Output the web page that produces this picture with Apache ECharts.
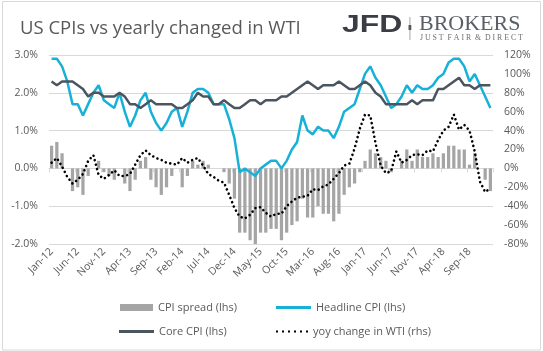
<!DOCTYPE html>
<html><head><meta charset="utf-8">
<script src="https://cdn.jsdelivr.net/npm/echarts@6/dist/echarts.min.js"></script>
<style>html,body{margin:0;padding:0;background:#fff}#c{width:543px;height:351px}</style>
</head><body><div id="c"></div>
<script>
const categories = [
 'Jan-12','Feb-12','Mar-12','Apr-12','May-12','Jun-12','Jul-12','Aug-12','Sep-12','Oct-12','Nov-12','Dec-12',
 'Jan-13','Feb-13','Mar-13','Apr-13','May-13','Jun-13','Jul-13','Aug-13','Sep-13','Oct-13','Nov-13','Dec-13',
 'Jan-14','Feb-14','Mar-14','Apr-14','May-14','Jun-14','Jul-14','Aug-14','Sep-14','Oct-14','Nov-14','Dec-14',
 'Jan-15','Feb-15','Mar-15','Apr-15','May-15','Jun-15','Jul-15','Aug-15','Sep-15','Oct-15','Nov-15','Dec-15',
 'Jan-16','Feb-16','Mar-16','Apr-16','May-16','Jun-16','Jul-16','Aug-16','Sep-16','Oct-16','Nov-16','Dec-16',
 'Jan-17','Feb-17','Mar-17','Apr-17','May-17','Jun-17','Jul-17','Aug-17','Sep-17','Oct-17','Nov-17','Dec-17',
 'Jan-18','Feb-18','Mar-18','Apr-18','May-18','Jun-18','Jul-18','Aug-18','Sep-18','Oct-18','Nov-18','Dec-18',
 'Jan-19'
];
const cpiSpread = [
 0.6,0.7,0.4,0.0,-0.6,-0.5,-0.7,-0.2,0.0,0.2,-0.1,-0.2,
 -0.3,0.0,-0.4,-0.6,-0.3,0.2,0.3,-0.3,-0.5,-0.7,-0.5,-0.2,
 0.0,-0.5,-0.2,0.2,0.1,0.2,0.1,0.0,0.0,-0.1,-0.4,-0.8,
 -1.7,-1.7,-1.9,-2.0,-1.7,-1.7,-1.6,-1.6,-1.9,-1.7,-1.5,-1.4,
 -0.8,-1.3,-1.3,-1.0,-1.2,-1.2,-1.4,-1.2,-0.7,-0.5,-0.4,-0.1,
 0.2,0.5,0.4,0.3,0.2,-0.1,0.0,0.2,0.5,0.2,0.5,0.3,
 0.3,0.4,0.3,0.4,0.6,0.6,0.5,0.5,0.1,0.4,0.0,-0.3,
 -0.6
];
const headlineCPI = [
 2.9,2.9,2.7,2.3,1.7,1.7,1.4,1.7,2.0,2.2,1.8,1.7,
 1.6,2.0,1.5,1.1,1.4,1.8,2.0,1.5,1.2,1.0,1.2,1.5,
 1.6,1.1,1.5,2.0,2.1,2.1,2.0,1.7,1.7,1.7,1.3,0.8,
 -0.1,0.0,-0.1,-0.2,0.0,0.1,0.2,0.2,0.0,0.2,0.5,0.7,
 1.4,1.0,0.9,1.1,1.0,1.0,0.8,1.1,1.5,1.6,1.7,2.1,
 2.5,2.7,2.4,2.2,1.9,1.6,1.7,1.9,2.2,2.0,2.2,2.1,
 2.1,2.2,2.4,2.5,2.8,2.9,2.9,2.7,2.3,2.5,2.2,1.9,
 1.6
];
const coreCPI = [
 2.3,2.2,2.3,2.3,2.3,2.2,2.1,1.9,2.0,2.0,1.9,1.9,
 1.9,2.0,1.9,1.7,1.7,1.6,1.7,1.8,1.7,1.7,1.7,1.7,
 1.6,1.6,1.7,1.8,2.0,1.9,1.9,1.7,1.7,1.8,1.7,1.6,
 1.6,1.7,1.8,1.8,1.7,1.8,1.8,1.8,1.9,1.9,2.0,2.1,
 2.2,2.3,2.2,2.1,2.2,2.2,2.2,2.3,2.2,2.1,2.1,2.2,
 2.3,2.2,2.0,1.9,1.7,1.7,1.7,1.7,1.7,1.8,1.7,1.8,
 1.8,1.8,2.1,2.1,2.2,2.3,2.4,2.2,2.2,2.1,2.2,2.2,
 2.2
];
const wtiYoy = [
 6,11,2,-9,-16,-12,-6,8,14,-7,-11,-7,
 -2,-8,-8,-6,4,14,19,14,11,9,6,5,
 4,11,6,9,11,3,-6,-9,-13,-15,-28,-42,
 -51,-53,-49,-42,-41,-47,-51,-48,-48,-40,-35,-31,
 -30,-29,-22,-23,-19,-17,-11,-5,3,5,21,42,
 57,56,27,3,-5,-3,18,6,9,14,15,14,
 19,18,30,40,44,57,41,46,40,18,-14,-25,
 -21
];
const leftTicks = {min: -2, max: 3, step: 1};
const rightTicks = {min: -80, max: 120, step: 20};
const names = ['CPI spread (lhs)', 'Headline CPI (lhs)', 'Core CPI (lhs)', 'yoy change in WTI (rhs)'];

const FONT = 'Open Sans';
const TXT = '#595959';
const C_BAR = '#a5a5a5', C_HEAD = '#17b1d8', C_CORE = '#4b5560', C_WTI = '#000000';

const chart = echarts.init(document.getElementById('c'), null, {renderer: 'canvas'});
const legendBase = {
  orient: 'horizontal', itemGap: 0, padding: 0,
  textStyle: {color: TXT, fontSize: 11, fontFamily: FONT},
  selectedMode: false
};
chart.setOption({
  animation: false,
  backgroundColor: '#ffffff',
  textStyle: {fontFamily: FONT},
  title: {
    text: 'US CPIs vs yearly changed in WTI',
    left: 15, top: 14,
    textStyle: {fontSize: 18.5, fontWeight: 'normal', fontFamily: FONT, color: TXT}
  },
  grid: {left: 49, right: 50, top: 55, bottom: 107, containLabel: false, outerBoundsMode: 'none'},
  legend: [
    Object.assign({}, legendBase, {left: 120, top: 302, data: [{name: names[0], icon: 'rect'}], itemWidth: 33, itemHeight: 7}),
    Object.assign({}, legendBase, {left: 276, top: 302, data: [{name: names[1], icon: 'rect'}], itemWidth: 35, itemHeight: 3}),
    Object.assign({}, legendBase, {left: 119, top: 326, data: [{name: names[2], icon: 'rect'}], itemWidth: 35, itemHeight: 3}),
    Object.assign({}, legendBase, {left: 276, top: 326, data: [{name: names[3], icon: 'path://M0,0h2v2h-2zM6,0h2v2h-2zM12,0h2v2h-2zM18,0h2v2h-2zM24,0h2v2h-2zM30,0h2v2h-2z'}], itemWidth: 32, itemHeight: 2.5})
  ],
  xAxis: [
    {
      type: 'category', data: categories, boundaryGap: true,
      axisLine: {show: false, onZero: false}, axisTick: {show: false},
      axisLabel: {interval: 4, rotate: 45, margin: 6, color: TXT, fontSize: 10.5, fontFamily: FONT},
      splitLine: {show: false}
    },
    {
      type: 'category', data: categories, boundaryGap: true, position: 'bottom',
      axisLine: {show: true, onZero: true, onZeroAxisIndex: 0, lineStyle: {color: '#d9d9d9', width: 1}},
      axisTick: {show: true, interval: 4, length: 4, lineStyle: {color: '#d9d9d9'}},
      axisLabel: {show: false}, splitLine: {show: false}
    }
  ],
  yAxis: [
    {
      type: 'value', min: leftTicks.min, max: leftTicks.max, interval: leftTicks.step,
      axisLine: {show: false}, axisTick: {show: false},
      axisLabel: {formatter: v => v.toFixed(1) + '%', color: TXT, fontSize: 10.5, fontFamily: FONT, margin: 11},
      splitLine: {show: true, lineStyle: {color: '#d9d9d9', width: 1}}
    },
    {
      type: 'value', min: rightTicks.min, max: rightTicks.max, interval: rightTicks.step,
      axisLine: {show: false}, axisTick: {show: false},
      axisLabel: {formatter: v => v + '%', color: TXT, fontSize: 10.5, fontFamily: FONT, margin: 11},
      splitLine: {show: false}
    }
  ],
  series: [
    {name: names[0], type: 'bar', xAxisIndex: 0, yAxisIndex: 0, data: cpiSpread, barWidth: '62%',
     itemStyle: {color: C_BAR}},
    {name: names[1], type: 'line', xAxisIndex: 0, yAxisIndex: 0, data: headlineCPI, symbol: 'none',
     itemStyle: {color: C_HEAD}, lineStyle: {color: C_HEAD, width: 2.5}},
    {name: names[2], type: 'line', xAxisIndex: 0, yAxisIndex: 0, data: coreCPI, symbol: 'none',
     itemStyle: {color: C_CORE}, lineStyle: {color: C_CORE, width: 2.5}},
    {name: names[3], type: 'line', xAxisIndex: 0, yAxisIndex: 1, data: wtiYoy, symbol: 'none',
     itemStyle: {color: C_WTI}, lineStyle: {color: C_WTI, width: 2.6, type: [0.01, 4.6], cap: 'round'}}
  ],
  graphic: [
    {type: 'rect', silent: true, z: -1, shape: {x: 2.5, y: 1.5, width: 538, height: 348.5},
     style: {fill: 'none', stroke: '#d9d9d9', lineWidth: 1}},
    {type: 'text', x: 342, y: 25.5, scaleX: 1.33, style: {text: 'JFD', font: 'bold 24px "Liberation Sans"', fill: '#3a3e44', textVerticalAlign: 'middle'}},
    {type: 'rect', shape: {x: 409.3, y: 17, width: 1.2, height: 23}, style: {fill: '#b5b5b5'}},
    {type: 'rect', shape: {x: 408.5, y: 25, width: 2.8, height: 5}, style: {fill: '#55595f'}},
    {type: 'text', x: 419, y: 24.5, style: {text: 'BROKERS', font: '22px "Liberation Serif"', fill: '#5b5f66', textVerticalAlign: 'middle'}},
    {type: 'text', x: 420, y: 38.3, style: {text: 'J U S T  F A I R  &  D I R E C T', font: '7.8px "Liberation Serif"', fill: '#6b6f75', textVerticalAlign: 'middle'}}
  ]
});
</script>
</body></html>
